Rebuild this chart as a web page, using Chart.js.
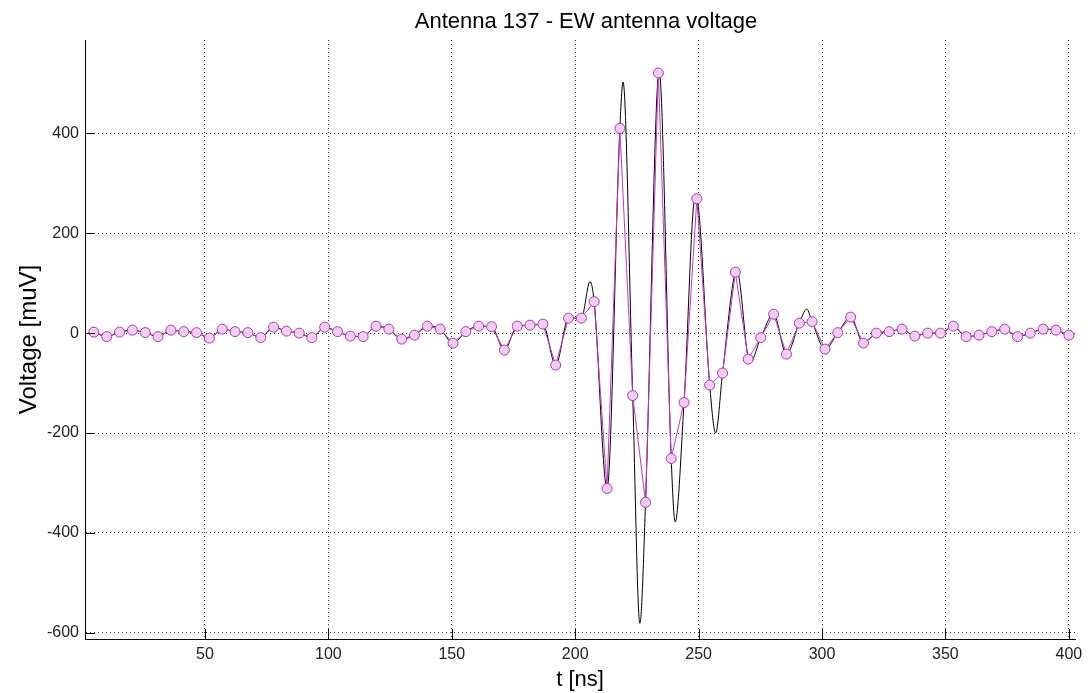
<!DOCTYPE html>
<html>
<head>
<meta charset="utf-8">
<script src="https://cdn.jsdelivr.net/npm/chart.js@4"></script>
<style>
html, body { margin: 0; padding: 0; background: #fff; }
</style>
</head>
<body>
<canvas id="chart" width="1090" height="693"></canvas>
<script>
// sampled trace (pink markers), t in ns, voltage in muV
var pinkTimes = [5.0, 10.2, 15.4, 20.6, 25.8, 31.0, 36.2, 41.4, 46.6, 51.8,
                 57.0, 62.2, 67.4, 72.6, 77.8, 83.0, 88.2, 93.3, 98.5, 103.7,
                 108.9, 114.1, 119.3, 124.5, 129.7, 134.9, 140.1, 145.3, 150.5, 155.7,
                 160.9, 166.1, 171.3, 176.5, 181.7, 186.9, 192.1, 197.3, 202.5, 207.7,
                 212.9, 218.1, 223.3, 228.5, 233.7, 238.9, 244.1, 249.3, 254.5, 259.7,
                 264.9, 270.1, 275.2, 280.4, 285.6, 290.8, 296.0, 301.2, 306.4, 311.6,
                 316.8, 322.0, 327.2, 332.4, 337.6, 342.8, 348.0, 353.2, 358.4, 363.6,
                 368.8, 374.0, 379.2, 384.4, 389.6, 394.8, 400.0];
var pinkVolts = [2, -7, 2, 6, 1, -7, 6, 3, 1, -10,
                 8, 3, 1, -9, 12, 4, 0, -9, 12, 3,
                 -6, -7, 14, 8, -12, -4, 14, 8, -20, 3,
                 14, 13, -34, 14, 16, 18, -64, 30, 30, 63,
                 -311, 410, -125, -339, 521, -251, -139, 269, -104, -80,
                 122, -52, -9, 38, -42, 20, 23, -32, 1, 32,
                 -20, 0, 3, 8, -6, 0, 0, 14, -7, -4,
                 3, 8, -7, 0, 8, 6, -4];

// peaks of the continuous (black) trace that fall between the samples
var blackPeakTimes = [206.0, 219.4, 226.2, 234.0, 240.5, 248.6, 256.9, 265.5, 270.8, 293.8];
var blackPeakVolts = [103, 503, -581, 526, -378, 272, -200, 125, -60, 48];

var xTicks = [50, 100, 150, 200, 250, 300, 350, 400];
var yTicks = [-600, -400, -200, 0, 200, 400];

var titleText = 'Antenna 137 - EW antenna voltage';
var fontFam = '"Liberation Sans", Arial, sans-serif';

var pinkPts = pinkTimes.map(function(t, i){ return {x: t, y: pinkVolts[i]}; });
var blackPts = pinkPts.concat(blackPeakTimes.map(function(t, i){
    return {x: t, y: blackPeakVolts[i]};
})).sort(function(a, b){ return a.x - b.x; });

// matlab style: ticks point inwards, title drawn over the axes
var extras = {
    id: 'extras',
    afterDraw: function(chart){
        var c = chart.ctx, a = chart.chartArea;
        var xs = chart.scales.x, ys = chart.scales.y;
        c.save();
        c.strokeStyle = '#000';
        c.lineWidth = 1;
        c.beginPath();
        xTicks.forEach(function(v){
            var px = Math.round(xs.getPixelForValue(v)) + 0.5;
            c.moveTo(px, a.bottom);
            c.lineTo(px, a.bottom - 10);
        });
        yTicks.forEach(function(v){
            var py = Math.round(ys.getPixelForValue(v)) + 0.5;
            c.moveTo(a.left, py);
            c.lineTo(a.left + 10, py);
        });
        c.stroke();
        c.font = '22px ' + fontFam;
        c.fillStyle = '#000';
        c.textAlign = 'center';
        c.textBaseline = 'alphabetic';
        c.fillText(titleText, (a.left + a.right) / 2 + 6, 28);
        c.restore();
    }
};

var ctx = document.getElementById('chart');
var chart = new Chart(ctx, {
    type: 'line',
    data: {
        datasets: [
            {
                label: 'samples',
                data: pinkPts,
                borderColor: '#c435c4',
                borderWidth: 1,
                pointRadius: 5,
                pointBorderWidth: 1,
                pointBorderColor: '#a83ca8',
                pointBackgroundColor: '#f5ccf5',
                tension: 0
            },
            {
                label: 'trace',
                data: blackPts,
                borderColor: '#000',
                borderWidth: 1,
                pointRadius: 0,
                cubicInterpolationMode: 'monotone'
            }
        ]
    },
    options: {
        responsive: false,
        animation: false,
        layout: { padding: { top: 40, right: 15, bottom: 0, left: 0 } },
        plugins: {
            legend: { display: false },
            tooltip: { enabled: false },
            title: { display: false }
        },
        scales: {
            x: {
                type: 'linear',
                min: 1.4,
                max: 402.5,
                afterBuildTicks: function(s){ s.ticks = xTicks.map(function(v){ return {value: v}; }); },
                afterFit: function(s){ s.height = 54; },
                grid: { color: '#333', lineWidth: 1, drawTicks: false },
                border: { display: true, color: '#000', width: 1, dash: [1, 3] },
                ticks: { padding: 6, color: '#222', font: { family: fontFam, size: 16 }, maxRotation: 0 },
                title: { display: true, text: 't [ns]', color: '#000', font: { family: fontFam, size: 22 }, padding: { top: 0, bottom: 0 } }
            },
            y: {
                type: 'linear',
                min: -612.5,
                max: 587,
                afterBuildTicks: function(s){ s.ticks = yTicks.map(function(v){ return {value: v}; }); },
                afterFit: function(s){ s.width = 85; },
                grid: { color: '#333', lineWidth: 1, drawTicks: false },
                border: { display: true, color: '#000', width: 1, dash: [1, 3] },
                ticks: { padding: 6, color: '#222', font: { family: fontFam, size: 16 } },
                title: { display: true, text: 'Voltage [muV]', color: '#000', font: { family: fontFam, size: 24 }, padding: { top: 15, bottom: 0 } }
            }
        }
    },
    plugins: [extras]
});
</script>
</body>
</html>
